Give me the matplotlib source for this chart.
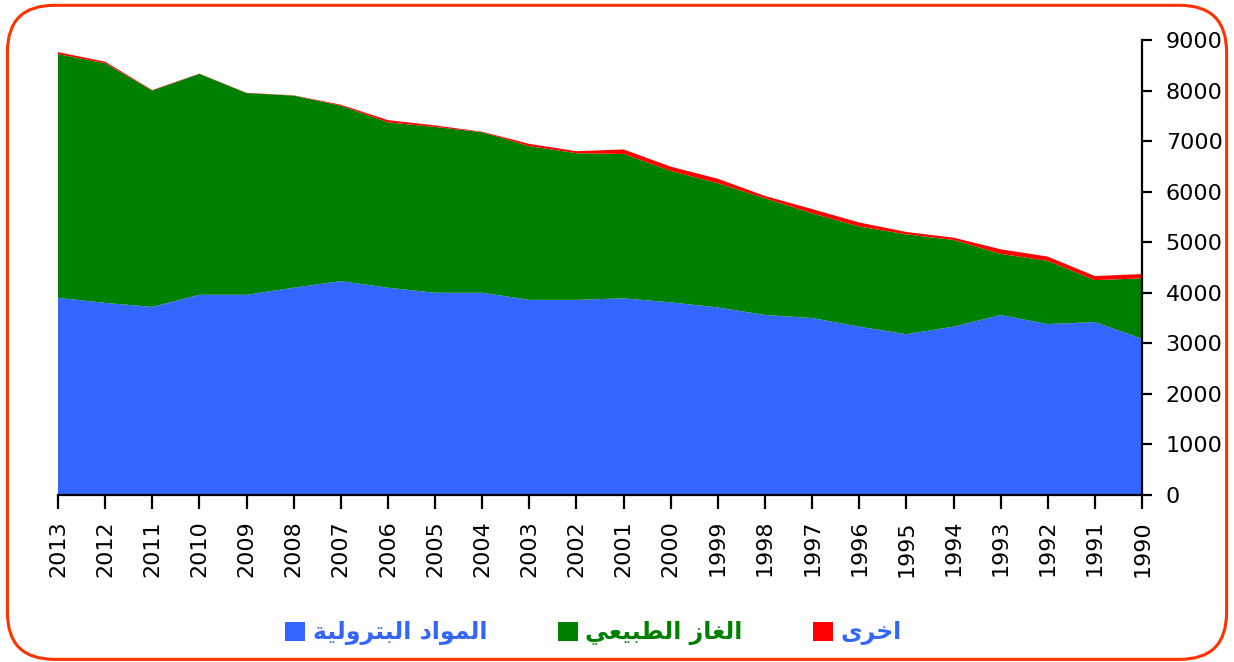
import matplotlib.pyplot as plt
from matplotlib.patches import FancyBboxPatch
import numpy as np

# energy consumption by source, 2013 back to 1990
years = np.arange(2013, 1989, -1)
petroleum = [3900, 3800, 3720, 3960, 3960, 4100, 4230, 4100, 4000, 4000, 3860, 3860,
             3890, 3810, 3710, 3560, 3500, 3330, 3180, 3330, 3560, 3380, 3420, 3090]
natural_gas = [4820, 4740, 4280, 4370, 3990, 3800, 3470, 3270, 3280, 3175, 3040, 2900,
               2855, 2600, 2455, 2310, 2070, 1980, 1975, 1715, 1210, 1250, 830, 1195]
other = [40, 30, 10, 5, 5, 5, 20, 45, 30, 10, 45, 40,
         90, 85, 90, 45, 85, 80, 47, 45, 90, 85, 80, 85]

labels = ['المواد البترولية', 'الغاز الطبيعي', 'اخرى']
colors = ['#3366ff', '#008000', '#ff0000']
label_colors = ['#3366ff', '#008000', '#3366ff']

# minimal arabic shaping (matplotlib does no shaping / bidi)
forms = {
    'ا': ('\uFE8D', '\uFE8E', None, None), 'ب': ('\uFE8F', '\uFE90', '\uFE91', '\uFE92'),
    'ت': ('\uFE95', '\uFE96', '\uFE97', '\uFE98'), 'ة': ('\uFE93', '\uFE94', None, None),
    'خ': ('\uFEA5', '\uFEA6', '\uFEA7', '\uFEA8'), 'د': ('\uFEA9', '\uFEAA', None, None),
    'ر': ('\uFEAD', '\uFEAE', None, None), 'ز': ('\uFEAF', '\uFEB0', None, None),
    'ط': ('\uFEC1', '\uFEC2', '\uFEC3', '\uFEC4'), 'ع': ('\uFEC9', '\uFECA', '\uFECB', '\uFECC'),
    'غ': ('\uFECD', '\uFECE', '\uFECF', '\uFED0'), 'ل': ('\uFEDD', '\uFEDE', '\uFEDF', '\uFEE0'),
    'م': ('\uFEE1', '\uFEE2', '\uFEE3', '\uFEE4'), 'و': ('\uFEED', '\uFEEE', None, None),
    'ى': ('\uFEEF', '\uFEF0', None, None), 'ي': ('\uFEF1', '\uFEF2', '\uFEF3', '\uFEF4'),
}


def shape(text):
    out = []
    for i, ch in enumerate(text):
        if ch not in forms:
            out.append(ch)
            continue
        prev = text[i - 1] if i > 0 else ' '
        nxt = text[i + 1] if i < len(text) - 1 else ' '
        join_prev = prev in forms and forms[prev][2] is not None
        join_next = nxt in forms and forms[ch][2] is not None
        f = forms[ch]
        if join_prev and join_next:
            out.append(f[3])
        elif join_prev:
            out.append(f[1])
        elif join_next:
            out.append(f[2])
        else:
            out.append(f[0])
    return ''.join(out)[::-1]


plt.rcParams['font.family'] = ['DejaVu Sans']

fig = plt.figure(figsize=(12.34, 6.62), dpi=100)
ax = fig.add_axes([0.047, 0.2523, 0.8785, 0.6873])

polys = ax.stackplot(years, petroleum, natural_gas, other, colors=colors, linewidth=0)

ax.set_xlim(2013, 1990)
ax.set_ylim(0, 9000)
ax.set_xticks(years)
ax.set_xticklabels([str(y) for y in years], rotation=90)
ax.set_yticks(range(0, 9001, 1000))
ax.yaxis.tick_right()

for s in ['top', 'left']:
    ax.spines[s].set_visible(False)
for s in ['right', 'bottom']:
    ax.spines[s].set_linewidth(1.6)
    ax.spines[s].set_color('black')
ax.tick_params(axis='x', length=10, width=1.6, pad=8, labelsize=16)
ax.tick_params(axis='y', length=7, width=1.6, pad=10, labelsize=16)

leg = fig.legend(polys, [shape(l) for l in labels], loc='center', bbox_to_anchor=(0.481, 0.044),
                 ncol=3, frameon=False, handlelength=0.85, handleheight=0.85,
                 handletextpad=0.3, columnspacing=3.0, prop={'size': 17, 'weight': 'bold'})
for t, c in zip(leg.get_texts(), label_colors):
    t.set_color(c)

# rounded orange frame
fig.patches.append(FancyBboxPatch((0.006, 0.004), 0.988, 0.988,
                                  boxstyle='round,pad=0,rounding_size=0.038',
                                  transform=fig.transFigure, fill=False,
                                  edgecolor='#ff3300', linewidth=2.2, mutation_aspect=1.86))

plt.savefig('out.png', dpi=100)
